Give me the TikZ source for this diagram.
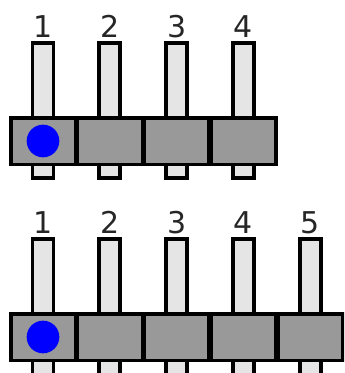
\documentclass[tikz,border=0pt]{standalone}
\usepackage{fontspec}
\setmainfont{DejaVu Sans}
\definecolor{pin fill}{gray}{0.9}
\definecolor{body fill}{gray}{0.6}

\begin{document}
\begin{tikzpicture}[
      x=0.75pt,y=-0.75pt,
      pin/.style ={draw=black,line width=2.8pt,fill=pin fill},
      cell/.style ={draw=black,line width=2.8pt,fill=body fill,line join=miter},
      pin label/.style ={inner sep=0pt,anchor=base,font=\fontsize{22.5}{22.5}\selectfont,text=black!85},
      dot/.style ={circle,fill=blue,inner sep=0pt,minimum size=24.5pt}]
    \useasboundingbox (0,0) rectangle (344,373);
    \clip (0,0) rectangle (344,373);
    % upper header, four pins
    \foreach \n in {1,...,4} {
      \pgfmathsetmacro{\pinx}{43+66.8*(\n-1)}
      \draw[pin] (\pinx-10.5,43) rectangle (\pinx+10.5,178);
      \node[pin label] (top\n) at (\pinx,37.5) {\n};
    }
    \foreach \n in {1,...,4} {
      \pgfmathsetmacro{\cellx}{10.8+66.8*(\n-1)}
      \draw[cell] (\cellx,118) rectangle (\cellx+64.8,164.5);
    }
    \node[dot] (topdot) at (43,141) {};
    % lower header, five pins
    \foreach \n in {1,...,5} {
      \pgfmathsetmacro{\pinx}{43+66.8*(\n-1)}
      \draw[pin] (\pinx-10.5,239) rectangle (\pinx+10.5,380);
      \node[pin label] (bot\n) at (\pinx,233.5) {\n};
    }
    \foreach \n in {1,...,5} {
      \pgfmathsetmacro{\cellx}{10.8+66.8*(\n-1)}
      \draw[cell] (\cellx,314) rectangle (\cellx+64.8,360.5);
    }
    \node[dot] (botdot) at (43,337) {};
    \end{tikzpicture}
\end{document}
